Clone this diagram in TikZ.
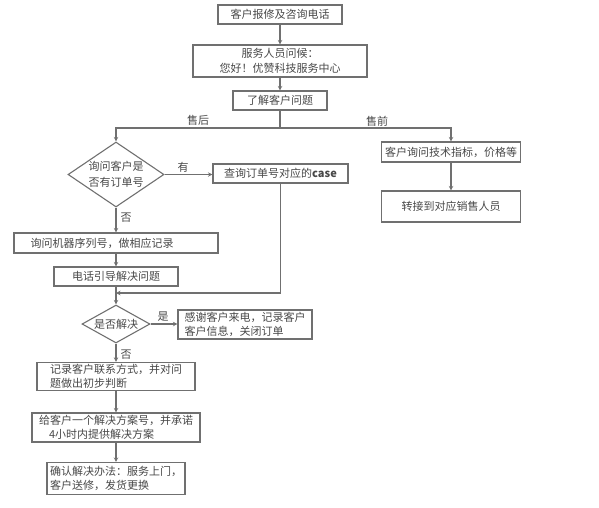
\documentclass[tikz,border=0pt]{standalone}
\usepackage{fontspec}
\setmainfont{Noto Sans CJK SC}
\usepackage{tikz}
\usetikzlibrary{arrows.meta,shapes.geometric,positioning}
\definecolor{linegray}{HTML}{707070}
\definecolor{textgray}{HTML}{484848}

\begin{document}
\begin{tikzpicture}
	[
		x=1pt, y=-1pt,
		font=\fontsize{11}{14}\selectfont,
		text=textgray,
		B/.style = {rectangle, align=center, draw=linegray, line width=1.1pt, inner sep=2pt},
		D/.style = {diamond, align=center, draw=linegray, line width=1.1pt, inner sep=-1pt},
		L/.style = {rectangle, draw=none, fill=none, inner sep=1pt},
		A/.style = {draw=linegray, line width=1.1pt, -{Stealth[length=4.5pt,width=4.5pt]}},
	]
	\useasboundingbox (0,0) rectangle (599,507);

	% top of the call
	\node[B, minimum width=124, minimum height=19] (start) 	at ( 280.0,  14.5 ) {客户报修及咨询电话};
	\node[B, minimum width=174, minimum height=32] (greet) 	at ( 280.0,  61.0 ) {服务人员问候：\\[0.5pt]您好！优赞科技服务中心\hspace{30pt}};
	\node[B, minimum width=94, minimum height=19] (know) 	at ( 280.0, 100.5 ) {了解客户问题};
	\coordinate (split) at ( 280.0, 128.0 );

	% after sales
	\node[D, aspect=1.48, minimum width=96, minimum height=65] (dec1) 	at ( 116.0, 174.5 ) {询问客户是\\[2pt]否有订单号};
	\node[B, minimum width=135, minimum height=19] (case) 	at ( 280.5, 173.5 ) {查询订单号对应的\textbf{case}};
	\node[B, minimum width=204, minimum height=20] (serial) at ( 116.0, 243.0 ) {询问机器序列号，做相应记录\hspace{28pt}};
	\node[B, minimum width=124, minimum height=19] (guide) 	at ( 116.0, 276.5 ) {电话引导解决问题};
	\coordinate (merge) at ( 116.0, 293.0 );

	% solved or not
	\node[D, aspect=1.79, minimum width=68, minimum height=38] (dec2) 	at ( 116.0, 324.0 ) {是否解决};
	\node[B, minimum width=134, minimum height=29, align=left] (thanks) 	at ( 245.0, 324.5 ) {感谢客户来电，记录客户\\客户信息，关闭订单};
	\node[B, minimum width=158, minimum height=27, align=left] (record) 	at ( 116.0, 376.5 ) {记录客户联系方式，并对问\\题做出初步判断};
	\node[B, minimum width=168, minimum height=29, align=left] (plan) 	at ( 116.0, 427.5 ) {给客户一个解决方案号，并承诺\\\hspace{10pt}4小时内提供解决方案};
	\node[B, minimum width=138, minimum height=32, align=left] (confirm) 	at ( 116.0, 478.5 ) {确认解决办法：服务上门，\\客户送修，发货更换};

	% before sales
	\node[B, minimum width=139, minimum height=20] (pre) 	at ( 451.0, 152.0 ) {客户询问技术指标，价格等};
	\node[B, minimum width=139, minimum height=31] (sales) 	at ( 451.0, 206.5 ) {转接到对应销售人员};

	% labels
	\node[L] (lafter) 	at ( 198.0, 120.0 ) {售后};
	\node[L] (lbefore) 	at ( 377.0, 121.0 ) {售前};
	\node[L] (lhas) 	at ( 183.0, 167.0 ) {有};
	\node[L] (lno1) 	at ( 126.0, 218.0 ) {否};
	\node[L] (lyes) 	at ( 163.0, 317.0 ) {是};
	\node[L] (lno2) 	at ( 126.0, 355.0 ) {否};

	\foreach \from/\to in {start/greet,greet/know,pre/sales,dec1/serial,serial/guide,dec2/record,record/plan,plan/confirm}
	\draw[A] (\from) -- (\to);

	\draw[linegray, line width=1.1pt] (know) -- (split);
	\draw[A] (split) -| (dec1);
	\draw[A] (split) -| (pre);
	\draw[A] (dec1.east) -- (dec1.east -| case.west);
	\draw[A] (guide) -- (dec2);
	\draw[A] (case.south) |- (merge);
	\draw[A] (dec2.east) -- (dec2.east -| thanks.west);

\end{tikzpicture}
\end{document}
